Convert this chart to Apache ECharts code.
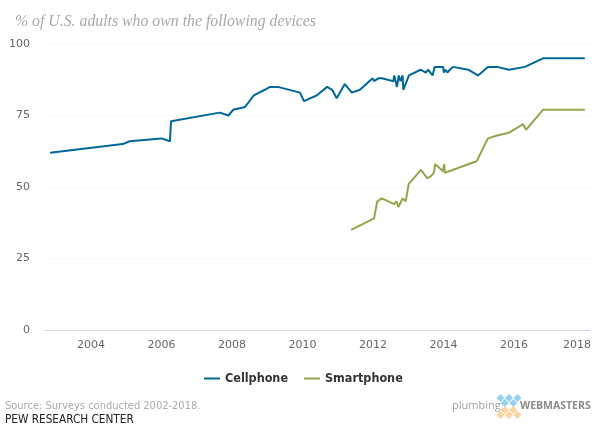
<!DOCTYPE html>
<html>
<head>
<meta charset="utf-8">
<style>html,body{margin:0;padding:0;background:#fff}#chart{width:600px;height:429px}</style>
<script src="https://cdn.jsdelivr.net/npm/echarts@6/dist/echarts.min.js"></script>
</head>
<body>
<div id="chart"></div>
<script>
const xTicks = [2004, 2006, 2008, 2010, 2012, 2014, 2016, 2018];
const cellYears = [2002.84, 2004.9, 2005.1, 2006.0, 2006.24, 2006.27, 2007.65, 2007.9, 2008.03, 2008.37, 2008.62, 2008.93, 2009.08, 2009.3, 2009.93, 2010.04, 2010.4, 2010.7, 2010.84, 2010.97, 2011.2, 2011.4, 2011.63, 2011.99, 2012.03, 2012.15, 2012.25, 2012.58, 2012.6, 2012.68, 2012.73, 2012.78, 2012.84, 2012.86, 2013.02, 2013.35, 2013.5, 2013.56, 2013.69, 2013.75, 2013.99, 2014.01, 2014.06, 2014.11, 2014.18, 2014.27, 2014.7, 2014.98, 2015.26, 2015.52, 2015.86, 2016.31, 2016.82, 2018.01];
const cellValues = [62, 65, 66, 67, 66, 73, 76, 75, 77, 78, 82, 84, 85, 85, 83, 80, 82, 85, 84, 81, 86, 83, 84, 88, 87, 88, 88, 87, 89, 85, 89, 87, 89, 84, 89, 91, 90, 91, 89, 92, 92, 90, 91, 90, 91, 92, 91, 89, 92, 92, 91, 92, 95, 95];
const smartYears = [2011.38, 2012.03, 2012.12, 2012.25, 2012.6, 2012.67, 2012.72, 2012.84, 2012.93, 2013.01, 2013.36, 2013.54, 2013.66, 2013.73, 2013.76, 2013.99, 2014.02, 2014.04, 2014.94, 2015.26, 2015.52, 2015.86, 2016.26, 2016.34, 2016.82, 2018.01];
const smartValues = [35, 39, 45, 46, 44, 45, 43, 46, 45, 51, 56, 53, 54, 55, 58, 55.5, 58, 55, 59, 67, 68, 69, 72, 70, 77, 77];

const zip = (a, b) => a.map((v, i) => [v, b[i]]);
const chart = echarts.init(document.getElementById('chart'));

// logo diamonds
const blue = '#93d0f1', orange = '#fbd39c';
const diamonds = [
  [500.5, 398, blue], [509, 398, blue], [517.5, 398, blue], [504.7, 403, blue], [513.3, 403, blue],
  [504.7, 410, orange], [513.3, 410, orange], [500.5, 415, orange], [509, 415, orange], [517.5, 415, orange]
].map(d => ({
  type: 'polygon', silent: true,
  shape: { points: [[d[0], d[1] - 4], [d[0] + 4, d[1]], [d[0], d[1] + 4], [d[0] - 4, d[1]]] },
  style: { fill: d[2] }
}));
const label = (x, y, text, font, fill) => ({
  type: 'text', silent: true, x, y,
  style: { text, font, fill, textVerticalAlign: 'middle' }
});

const option = {
  backgroundColor: '#fff',
  animation: false,
  grid: { left: 45, right: 10, top: 44, bottom: 99 },
  legend: {
    top: 367, left: 199, itemWidth: 16, itemHeight: 2, itemGap: 16, icon: 'rect',
    textStyle: { color: '#333', fontSize: 12.5, fontWeight: 'bold', fontFamily: '"DejaVu Sans Condensed","DejaVu Sans"' },
    data: ['Cellphone', 'Smartphone']
  },
  xAxis: {
    type: 'value', min: 2002.695, max: 2018.156,
    splitLine: { show: false }, axisTick: { show: false },
    axisLine: { onZero: false, lineStyle: { color: '#ccd6eb' } },
    axisLabel: {
      customValues: xTicks, color: '#666', fontSize: 11, margin: 10,
      fontFamily: '"DejaVu Sans"',
      formatter: v => v === 2018 ? '{last|2018}' : String(v),
      rich: { last: { color: '#666', fontSize: 11, fontFamily: '"DejaVu Sans"', padding: [0, 15, 0, 0] } }
    }
  },
  yAxis: {
    type: 'value', min: 0, max: 100, interval: 25,
    axisLine: { show: false }, axisTick: { show: false },
    axisLabel: { color: '#666', fontSize: 11, margin: 15, padding: [2, 0, 0, 0], fontFamily: '"DejaVu Sans"' },
    splitLine: { lineStyle: { color: '#e6e6e6', type: [1, 3] } }
  },
  series: [
    { name: 'Cellphone', type: 'line', showSymbol: false, data: zip(cellYears, cellValues), itemStyle: { color: '#00679b' }, lineStyle: { color: '#00679b', width: 2 } },
    { name: 'Smartphone', type: 'line', showSymbol: false, data: zip(smartYears, smartValues), itemStyle: { color: '#98a34b' }, lineStyle: { color: '#98a34b', width: 2 } }
  ],
  graphic: [
    label(15, 22, '% of U.S. adults who own the following devices', 'italic 15.8px "Liberation Serif"', '#a8a8a8'),
    label(5, 406, 'Source: Surveys conducted 2002-2018.', '11px "DejaVu Sans Condensed","DejaVu Sans"', '#aaa'),
    label(5, 420, 'PEW RESEARCH CENTER', '11.7px "DejaVu Sans Condensed","DejaVu Sans"', '#222'),
    label(452, 406, 'plumbing', '11px "Open Sans"', '#a0a0a0'),
    label(520, 406, 'WEBMASTERS', 'bold 10.5px "Open Sans"', '#8a8a8a'),
    ...diamonds
  ]
};
chart.setOption(option);
window.addEventListener('resize', () => chart.resize());
</script>
</body>
</html>
